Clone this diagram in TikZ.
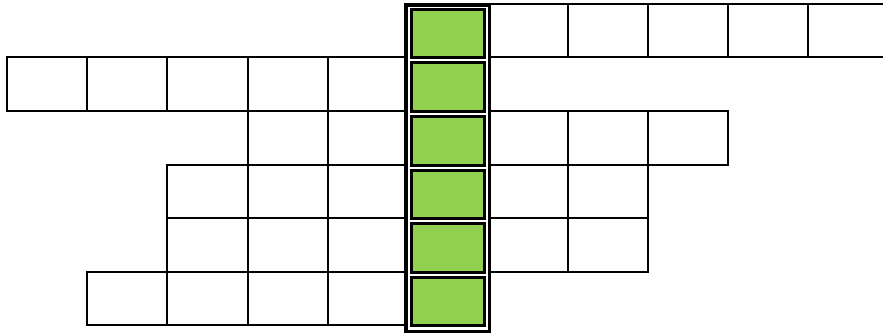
\documentclass[tikz,border=0pt]{standalone}
\usetikzlibrary{calc}
\definecolor{cellgreen}{RGB}{146,208,80}
\tikzset{
  cellbox/.style={draw=black, line width=2pt, fill=white},
  greenbox/.style={draw=black, line width=3pt, fill=cellgreen},
  framebox/.style={draw=black, line width=3.6pt}
}
\begin{document}
\begin{tikzpicture}[x=1pt,y=-1pt]
\useasboundingbox (0,0) rectangle (883,334);
% row y positions
\def\ra{4}\def\rb{57.5}\def\rc{111}\def\rd{164.5}\def\re{218}\def\rf{271.5}\def\rg{325}
% column x positions
\def\ca{7}\def\cb{87.2}\def\cc{167.4}\def\cd{247.6}\def\ce{327.8}\def\cf{408}
\def\cg{488}\def\ch{568}\def\ci{648}\def\cj{728}\def\ck{808}
% row 1
\foreach \x/\xx in {\cg/\ch,\ch/\ci,\ci/\cj,\cj/\ck}
  \draw[cellbox] (\x,\ra) rectangle (\xx,\rb);
\draw[line width=2pt] (883,\ra) -- (\ck,\ra) -- (\ck,\rb) -- (883,\rb);
% row 2
\foreach \x/\xx in {\ca/\cb,\cb/\cc,\cc/\cd,\cd/\ce,\ce/\cf}
  \draw[cellbox] (\x,\rb) rectangle (\xx,\rc);
% row 3
\foreach \x/\xx in {\cd/\ce,\ce/\cf,\cg/\ch,\ch/\ci,\ci/\cj}
  \draw[cellbox] (\x,\rc) rectangle (\xx,\rd);
% row 4
\foreach \x/\xx in {\cc/\cd,\cd/\ce,\ce/\cf,\cg/\ch,\ch/\ci}
  \draw[cellbox] (\x,\rd) rectangle (\xx,\re);
% row 5
\foreach \x/\xx in {\cc/\cd,\cd/\ce,\ce/\cf,\cg/\ch,\ch/\ci}
  \draw[cellbox] (\x,\re) rectangle (\xx,\rf);
% row 6
\foreach \x/\xx in {\cb/\cc,\cc/\cd,\cd/\ce,\ce/\cf}
  \draw[cellbox] (\x,\rf) rectangle (\xx,\rg);
% highlighted column frame
\fill[white] (406,5) rectangle (489.5,331.5);
\draw[framebox] (406,5) rectangle (489.5,331.5);
% green cells
\foreach \t/\b in {\ra/\rb,\rb/\rc,\rc/\rd,\rd/\re,\re/\rf,\rf/\rg}
  \draw[greenbox] (411.5,\t+5.5) rectangle (484.5,\b+0.5);
\end{tikzpicture}
\end{document}
